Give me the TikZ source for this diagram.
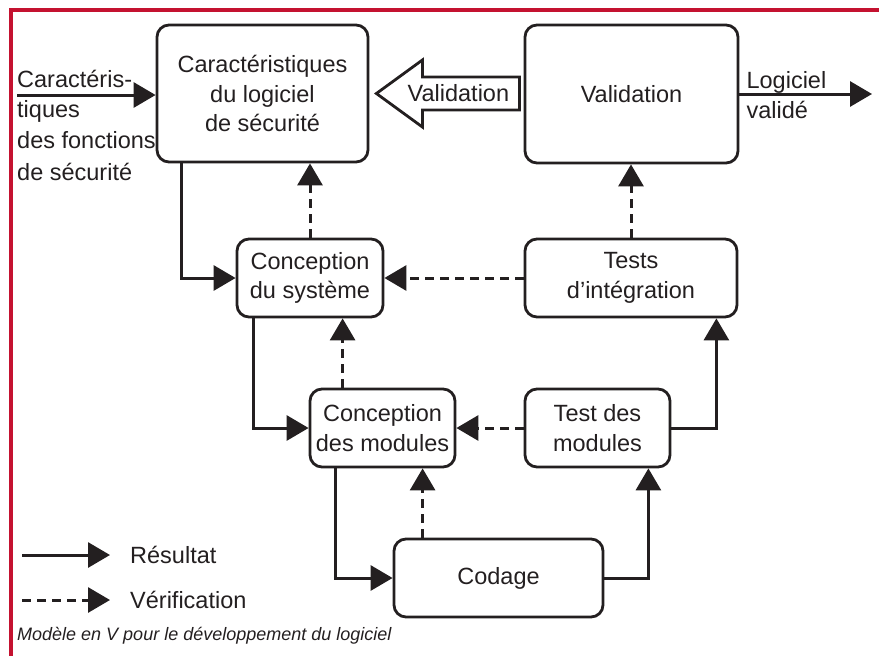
\documentclass[tikz,border=0pt]{standalone}
\usepackage{fontspec}
\setmainfont{Liberation Sans}
\usepackage{tikz}
\usetikzlibrary{arrows.meta,calc}
\definecolor{ink}{RGB}{35,31,32}
\definecolor{framered}{RGB}{196,18,48}
\tikzset{
  box/.style={
    rectangle,
    rounded corners=12pt,
    draw=ink,
    line width=2.8pt,
    text=ink,
    align=center,
    inner sep=0pt,
    font=\fontsize{23.5}{29.5}\selectfont
  },
  result/.style={-{Triangle[length=22pt,width=25pt]}, line width=3pt, draw=ink},
  verif/.style={result, dash pattern=on 9pt off 6pt},
  hollow/.style={draw=ink, line width=2.8pt, fill=white, line join=miter},
  lbl/.style={text=ink, inner sep=0pt, align=left, font=\fontsize{23.5}{31.5}\selectfont},
  caption/.style={text=ink, inner sep=0pt, font=\fontsize{18}{22}\selectfont\itshape},
  frame/.style={draw=framered, line width=4pt}
}

\begin{document}
\begin{tikzpicture}[x=1pt,y=-1pt]
  \useasboundingbox (0,0) rectangle (879,656);
  \draw[frame] (10.5,660) -- (10.5,9.5) -- (883,9.5);

  \node[box, minimum width=211pt, minimum height=137pt] (carac) at (262.5,93.5) {Caractéristiques\\du logiciel\\de sécurité};
  \node[box, minimum width=213pt, minimum height=138pt] (valid) at (631.5,94) {Validation};
  \node[box, minimum width=146pt, minimum height=78pt] (csys) at (310,278) {Conception\\du système};
  \node[box, minimum width=212pt, minimum height=78pt] (tint) at (631,278) {Tests\\d’intégration};
  \node[box, minimum width=145pt, minimum height=78pt] (cmod) at (382.5,428) {Conception\\des modules};
  \node[box, minimum width=145pt, minimum height=78pt] (tmod) at (597.5,428) {Test des\\modules};
  \node[box, minimum width=209pt, minimum height=78pt] (codage) at (498.5,578) {Codage};

  \coordinate (in) at (17,95);
  \coordinate (out) at (872,94);
  \node[lbl, anchor=base west] (inlbl) at (17,87) {Caractéris-};
  \node[lbl, anchor=base west] (inlbl2) at (17,180) {tiques\\des fonctions\\de sécurité};
  \node[lbl, anchor=base west] (outlbl) at ([xshift=7pt]valid.east |- 0,88) {Logiciel};
  \node[lbl, anchor=base west] (outlbl2) at ([xshift=7pt]valid.east |- 0,118) {validé};

  \draw[result] (in) -- (in -| carac.west);
  \draw[result] (valid.east |- out) -- (out);

  \coordinate (vtip) at ([xshift=7pt]carac.east);
  \draw[hollow] (vtip) -- ++(46,-33.5) -- ++(0,17) -- ++(97,0) -- ++(0,33) -- ++(-97,0) -- ++(0,17) -- cycle;
  \node[lbl] (vlbl) at ([xshift=82pt]vtip) {Validation};

  \draw[result] ([xshift=26pt]carac.south west) |- (csys.west);
  \draw[verif] (csys.north) -- (csys.north |- carac.south);
  \draw[verif] (tint.west) -- (csys.east);
  \draw[verif] (tint.north) -- (tint.north |- valid.south);
  \draw[result] ([xshift=18pt]csys.south west) |- (cmod.west);
  \draw[verif] ([xshift=34pt]cmod.north west) -- ([xshift=34pt]cmod.north west |- csys.south);
  \draw[verif] (tmod.west) -- (cmod.east);
  \draw[result] (tmod.east) -| ([xshift=-22pt]tint.south east);
  \draw[result] ([xshift=27pt]cmod.south west) |- (codage.west);
  \draw[verif] ([xshift=30pt]codage.north west) -- ([xshift=30pt]codage.north west |- cmod.south);
  \draw[result] (codage.east) -| ([xshift=-23pt]tmod.south east);

  \node[lbl, anchor=west] (res) at (130,555) {Résultat};
  \node[lbl, anchor=west] (ver) at (130,600) {Vérification};
  \coordinate (res0) at (22,555);
  \coordinate (ver0) at (22,600);
  \draw[result] (res0) -- ([xshift=-20pt]res.west);
  \draw[verif] (ver0) -- ([xshift=-20pt]ver.west);

  \node[caption, anchor=base west] (cap) at (17,640) {Modèle en V pour le développement du logiciel};
\end{tikzpicture}
\end{document}
